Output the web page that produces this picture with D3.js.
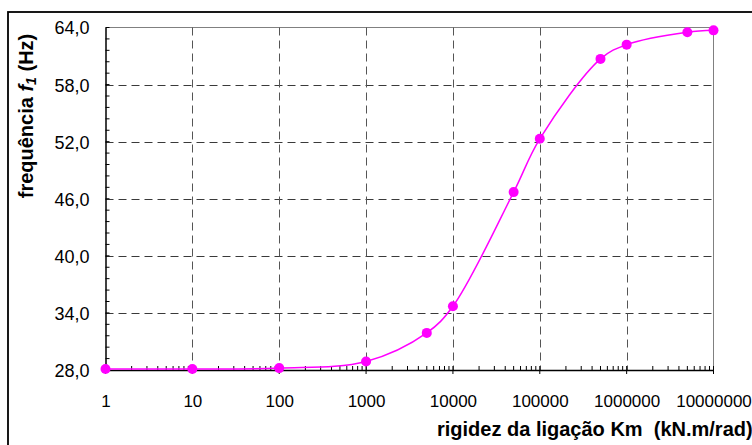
<!DOCTYPE html>
<html><head><meta charset="utf-8">
<script src="https://cdn.jsdelivr.net/npm/d3@7"></script>
<style>body{margin:0;background:#fff}svg{display:block;font-family:"Liberation Sans",Arial,sans-serif}</style>
</head><body><svg id="c" width="752" height="445"></svg>
<script>
const rigidez = [1, 10, 100, 1000, 5000, 10000, 50000, 100000, 500000, 1000000, 5000000, 10000000];
const frequencia = [28.1, 28.1, 28.2, 28.9, 31.9, 34.7, 46.7, 52.3, 60.7, 62.2, 63.5, 63.7];
const xTicks = [1, 10, 100, 1000, 10000, 100000, 1000000, 10000000];
const yTicks = [28, 34, 40, 46, 52, 58, 64];

const svg = d3.select("#c");
const L = 105.5, R = 713.5, T = 27.5, B = 370;
const x = d3.scaleLog().domain([1, 1e7]).range([L, R]);
const y = d3.scaleLinear().domain([28, 64]).range([B, T]);

// outer frame
svg.append("rect").attr("x", 8).attr("y", 12).attr("width", 800).attr("height", 500)
  .attr("fill", "none").attr("stroke", "#000").attr("stroke-width", 1.8);

// plot border (top/right grey)
svg.append("path").attr("d", `M${L},${T}H${R}V${B}`).attr("fill", "none").attr("stroke", "#808080").attr("stroke-width", 1);

// gridlines
const grid = svg.append("g").attr("stroke", "#3a3a3a").attr("stroke-width", 1).attr("stroke-dasharray", "8,5");
yTicks.filter(v => v > 28 && v < 64).forEach(v => {
  grid.append("line").attr("x1", L).attr("x2", R).attr("y1", Math.round(y(v)) + 0.5).attr("y2", Math.round(y(v)) + 0.5);
});
xTicks.filter(v => v > 1 && v < 1e7).forEach(v => {
  grid.append("line").attr("stroke", "#555").attr("x1", Math.round(x(v)) + 0.5).attr("x2", Math.round(x(v)) + 0.5).attr("y1", T).attr("y2", B);
});

// y axis
const yAxis = d3.axisLeft(y).tickValues(yTicks).tickSize(0).tickFormat(d => d3.format(".1f")(d).replace(".", ","));
const yg = svg.append("g").attr("transform", `translate(${L},0)`).call(yAxis);
yg.select(".domain").attr("stroke", "#000").attr("stroke-width", 1.5);
yg.selectAll("text").attr("x", -16).attr("dy", "0.36em").attr("font-size", 18).attr("fill", "#000").attr("font-family", "Liberation Sans, Arial, sans-serif");
// minor y ticks
const yMinor = d3.range(28, 64.001, 1.2);
svg.append("g").selectAll("line").data(yMinor).join("line")
  .attr("x1", L).attr("x2", L + 4).attr("y1", d => y(d)).attr("y2", d => y(d))
  .attr("stroke", "#000").attr("stroke-width", 1);

// x axis
const xAxis = d3.axisBottom(x).tickValues(xTicks).tickSize(0).tickFormat(d => String(d));
const xg = svg.append("g").attr("transform", `translate(0,${B})`).call(xAxis);
xg.select(".domain").attr("stroke", "#000").attr("stroke-width", 1.5);
xg.selectAll("text").attr("y", 37).attr("dy", 0).attr("font-size", 17).attr("fill", "#000").attr("font-family", "Liberation Sans, Arial, sans-serif");
// minor x ticks
const xMinor = [];
for (let d = 1; d < 1e7; d *= 10) for (let k = 2; k <= 9; k++) xMinor.push(d * k);
svg.append("g").selectAll("line").data(xMinor).join("line")
  .attr("x1", d => x(d)).attr("x2", d => x(d)).attr("y1", B).attr("y2", B - 4)
  .attr("stroke", "#000").attr("stroke-width", 1);
svg.append("g").selectAll("line").data(xTicks).join("line")
  .attr("x1", d => x(d)).attr("x2", d => x(d)).attr("y1", B - 4).attr("y2", B + 4)
  .attr("stroke", "#000").attr("stroke-width", 1);

// series
const data = rigidez.map((r, i) => ({ r, f: frequencia[i] }));
const line = d3.line().x(d => x(d.r)).y(d => y(d.f)).curve(d3.curveCatmullRom.alpha(0.5));
svg.append("path").datum(data).attr("d", line).attr("fill", "none").attr("stroke", "#FF00FF").attr("stroke-width", 1.5);
svg.append("g").selectAll("circle").data(data).join("circle")
  .attr("cx", d => x(d.r)).attr("cy", d => y(d.f)).attr("r", 5).attr("fill", "#FF00FF");

// axis titles
const yt = svg.append("text").attr("transform", "translate(33,116) rotate(-90)")
  .attr("text-anchor", "middle").attr("font-size", 20).attr("font-weight", "bold").attr("fill", "#000");
yt.append("tspan").text("frequência ");
yt.append("tspan").attr("font-style", "italic").text("f");
yt.append("tspan").attr("font-style", "italic").attr("font-size", 14).attr("dy", 3).text("1");
yt.append("tspan").attr("dy", -3).text(" (Hz)");

svg.append("text").attr("x", 437).attr("y", 436).attr("font-size", 20).attr("font-weight", "bold").attr("fill", "#000")
  .attr("xml:space", "preserve").style("white-space", "pre").text("rigidez da ligação Km  (kN.m/rad)");
</script></body></html>
